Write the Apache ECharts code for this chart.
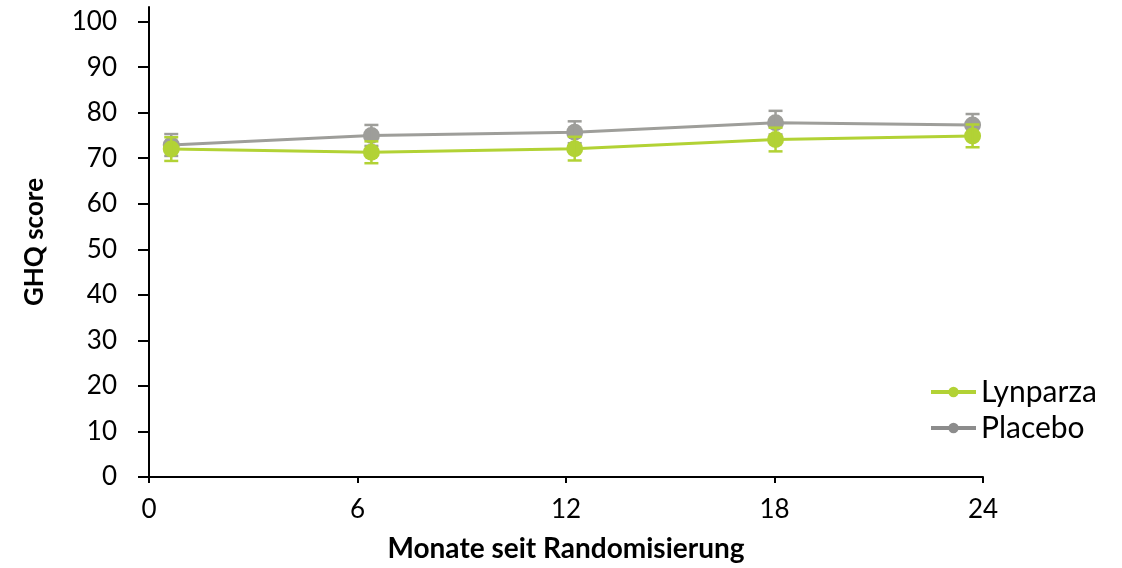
<!DOCTYPE html>
<html>
<head>
<meta charset="utf-8">
<script src="https://cdn.jsdelivr.net/npm/echarts@6/dist/echarts.min.js"></script>
<style>html,body{margin:0;padding:0;background:#fff}#c{width:1122px;height:568px}</style>
</head>
<body>
<div id="c"></div>
<script>
// Data
const months = [0.64, 6.4, 12.25, 18.03, 23.7];
const lynparza = [72.0, 71.3, 72.1, 74.1, 74.9];
const lynparzaErr = [2.6, 2.4, 2.6, 2.6, 2.5];
const placebo = [72.9, 75.0, 75.7, 77.8, 77.3];
const placeboErr = [2.4, 2.3, 2.4, 2.6, 2.4];
const xTicks = [0, 6, 12, 18, 24];
const yTicks = [0, 10, 20, 30, 40, 50, 60, 70, 80, 90, 100];

const GREEN = '#b2d235';
const GRAY = '#9e9e9a';
const GRAY_LEGEND = '#8c8c8c';
const FONT = 'Lato';

function pts(ys){ return months.map((m,i)=>[m, ys[i]]); }
function errs(ys, es){ return months.map((m,i)=>[m, ys[i]-es[i], ys[i]+es[i]]); }
function errSeries(name, ys, es, color, z){
  return {
    type:'custom', name:name+'_err', z:z, silent:true,
    data: errs(ys, es),
    renderItem:(params, api)=>{
      const x=api.value(0), lo=api.value(1), hi=api.value(2);
      const a=api.coord([x,lo]), b=api.coord([x,hi]);
      const w=7;
      const st={stroke:color, lineWidth:2.5};
      return {type:'group', children:[
        {type:'line', shape:{x1:a[0],y1:a[1],x2:b[0],y2:b[1]}, style:st},
        {type:'line', shape:{x1:a[0]-w,y1:a[1],x2:a[0]+w,y2:a[1]}, style:st},
        {type:'line', shape:{x1:b[0]-w,y1:b[1],x2:b[0]+w,y2:b[1]}, style:st}
      ]};
    }
  };
}

const chart = echarts.init(document.getElementById('c'), null, {renderer:'canvas'});
chart.setOption({
  animation:false,
  backgroundColor:'#fff',
  grid:{left:149, right:139, top:7, bottom:88, containLabel:false},
  legend:{
    orient:'vertical', left:924, top:372,
    itemWidth:45, itemHeight:13, itemGap:6,
    lineStyle:{width:4},
    textStyle:{fontFamily:FONT, fontSize:30, color:'#000'},
    data:[
      {name:'Lynparza'},
      {name:'Placebo', itemStyle:{color:GRAY_LEGEND}, lineStyle:{color:GRAY_LEGEND}}
    ]
  },
  xAxis:{
    type:'value', min:0, max:24, interval:6,
    name:'Monate seit Randomisierung', nameLocation:'middle', nameGap:58,
    nameTextStyle:{fontFamily:FONT, fontWeight:'bold', fontSize:28, color:'#000'},
    axisLine:{lineStyle:{color:'#000', width:2}},
    axisTick:{show:true, length:6, lineStyle:{color:'#000', width:2}, customValues:xTicks},
    axisLabel:{fontFamily:FONT, fontSize:26, color:'#000', margin:20, customValues:xTicks},
    splitLine:{show:false}
  },
  yAxis:{
    type:'value', min:0, max:103.2,
    name:'GHQ score', nameLocation:'middle', nameGap:101, nameRotate:90,
    nameTextStyle:{fontFamily:FONT, fontWeight:'bold', fontSize:26, color:'#000'},
    axisLine:{show:true, lineStyle:{color:'#000', width:2}},
    axisTick:{show:true, length:11, lineStyle:{color:'#000', width:2}, customValues:yTicks},
    axisLabel:{fontFamily:FONT, fontSize:26, color:'#000', margin:32, customValues:yTicks},
    splitLine:{show:false}
  },
  series:[
    {
      name:'Placebo', type:'line', z:2, data:pts(placebo),
      symbol:'circle', symbolSize:17,
      lineStyle:{color:GRAY, width:3}, itemStyle:{color:GRAY}
    },
    errSeries('Placebo', placebo, placeboErr, GRAY, 3),
    {
      name:'Lynparza', type:'line', z:4, data:pts(lynparza),
      symbol:'circle', symbolSize:17,
      lineStyle:{color:GREEN, width:3}, itemStyle:{color:GREEN}
    },
    errSeries('Lynparza', lynparza, lynparzaErr, GREEN, 5)
  ]
});
</script>
</body>
</html>
